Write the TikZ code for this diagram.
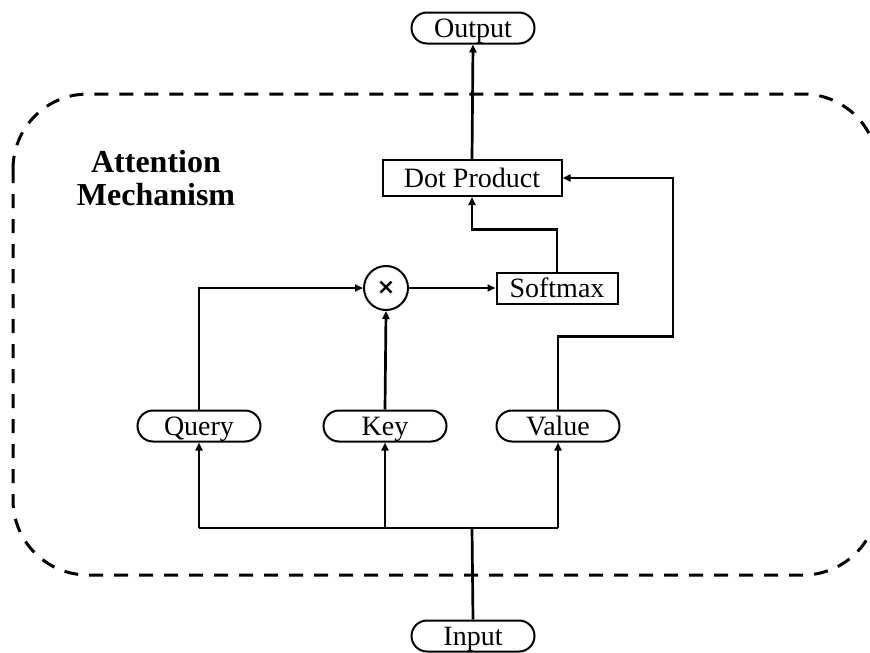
\documentclass[tikz,border=0pt]{standalone}
\usepackage{fontspec}
\setmainfont{Liberation Serif}
\newfontfamily\symfont{DejaVu Sans}
\usetikzlibrary{arrows.meta,shapes.misc,calc}
\begin{document}
\begin{tikzpicture}[x=1pt,y=-1pt,
  font=\fontsize{28}{32}\selectfont,
  pill/.style={draw,line width=2pt,rounded rectangle,minimum width=123pt,minimum height=31pt,inner sep=0pt,text height=18.5pt,text depth=0pt},
  boxnode/.style={draw,line width=2pt,rectangle,minimum height=36pt,inner sep=0pt,text height=18.5pt,text depth=0pt},
  conn/.style={line width=2.7pt,-{Triangle[length=8pt,width=7pt]}},
  plain/.style={line width=2.7pt}]
\useasboundingbox (0,0) rectangle (870,653);
\clip (0,0) rectangle (870,653);

% enclosing dashed frame
\draw[line width=3pt,dash pattern=on 14pt off 11pt,rounded corners=75pt] (13,94) rectangle (878,575);

\node[font=\fontsize{32}{33}\selectfont\bfseries,align=center] (title) at (156,178) {Attention\\Mechanism};

% nodes
\node[pill] (out) at (473,28) {Output};
\node[pill] (in) at (473,636) {Input};
\node[boxnode,minimum width=179pt] (dot) at (472,178) {Dot Product};
\node[boxnode,minimum width=121pt,minimum height=31pt] (soft) at (557,288) {Softmax};
\node[draw,line width=2pt,circle,minimum size=44pt,inner sep=0pt] (mul) at (386,288) {\symfont\bfseries\fontsize{22}{22}\selectfont ×};
\node[pill] (q) at (199,426) {Query};
\node[pill] (k) at (385,426) {Key};
\node[pill] (v) at (558,426) {Value};

% junction points
\coordinate (split) at (472,528);
\coordinate (qsplit) at (199,528);
\coordinate (vsplit) at (558,528);

% input distribution
\draw[plain] (in.north) -- (split);
\draw[plain] (qsplit) -- (vsplit);
\draw[conn] (qsplit) -- (q.south);
\draw[conn] (k.south |- split) -- (k.south);
\draw[conn] (vsplit) -- (v.south);

% attention scores
\draw[conn] (q.north) |- (mul.west);
\draw[conn] (k.north) -- (mul.south);
\draw[conn] (mul.east) -- (soft.west);
\draw[conn] (soft.north) -- ++(0,-42) -| (dot.south);

% value path
\draw[conn] (v.north) -- ++(0,-73) -- ++(115,0) |- (dot.east);

% output
\draw[conn] (dot.north) -- (out.south);
\end{tikzpicture}
\end{document}
